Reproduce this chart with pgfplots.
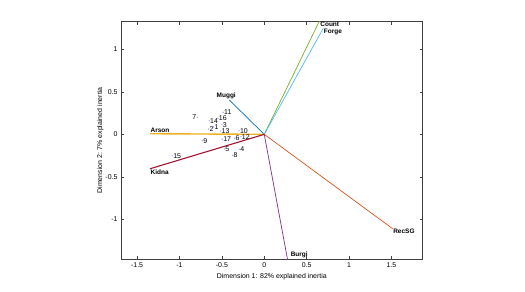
\documentclass[border=0pt]{standalone}
\usepackage{fontspec}
\setmainfont{Liberation Sans}
\usepackage{pgfplots}
\pgfplotsset{compat=1.18}
\definecolor{mBlue}{rgb}{0,0.447,0.741}
\definecolor{mOrange}{rgb}{0.85,0.325,0.098}
\definecolor{mYellow}{rgb}{0.929,0.694,0.125}
\definecolor{mPurple}{rgb}{0.494,0.184,0.556}
\definecolor{mGreen}{rgb}{0.466,0.674,0.188}
\definecolor{mCyan}{rgb}{0.301,0.745,0.933}
\definecolor{mRed}{rgb}{0.635,0.078,0.184}
\definecolor{dotc}{rgb}{0.6,0.6,1}
\begin{document}
\begin{tikzpicture}
\begin{axis}[
  scale only axis, width=301.7bp, height=237.6bp,
  xmin=-1.69, xmax=1.869, ymin=-1.47, ymax=1.325,
  xtick={-1.5,-1,-0.5,0,0.5,1,1.5},
  ytick={-1,-0.5,0,0.5,1},
  tick align=inside, major tick length=3bp,
  axis line style={black!75, line width=0.5bp},
  tick style={black!75, line width=0.5bp},
  ticklabel style={font=\fontsize{7}{8}\selectfont},
  /pgf/number format/assume math mode=true,
  xlabel={Dimension 1: 82\% explained inertia},
  ylabel={Dimension 2: 7\% explained inertia},
  label style={font=\fontsize{7}{8}\selectfont},
  xlabel style={yshift=1bp},
  ylabel style={yshift=-5bp},
]
\addplot[mGreen, line width=0.7bp] coordinates {(0,0) (0.654,1.34)};
\addplot[mCyan, line width=0.7bp] coordinates {(0,0) (0.696,1.247)};
\addplot[mBlue, line width=0.7bp] coordinates {(0,0) (-0.413,0.404)};
\addplot[mYellow, line width=1.4bp] coordinates {(0,0) (-1.348,0.007)};
\addplot[mRed, line width=1.1bp] coordinates {(0,0) (-1.348,-0.405)};
\addplot[mOrange, line width=0.7bp] coordinates {(0,0) (1.514,-1.11)};
\addplot[mPurple, line width=0.7bp] coordinates {(0,0) (0.278,-1.49)};

\addplot[only marks, mark=*, mark size=0.4bp, color=dotc,
  point meta=explicit symbolic,
  nodes near coords,
  nodes near coords style={anchor=west, inner sep=0.8bp, text=black, font=\fontsize{7}{8}\selectfont}]
  table[meta=lab] {
x y lab
-0.597 0.086 1
-0.656 0.062 2
-0.499 0.112 3
-0.295 -0.176 4
-0.472 -0.173 5
-0.349 -0.047 6
-0.731 -0.075 9
-0.373 -0.247 8
-0.298 0.042 10
-0.484 0.259 11
-0.275 -0.028 12
-0.514 0.039 13
-0.649 0.160 14
-1.085 -0.252 15
-0.546 0.190 16
-0.495 -0.059 17
};
\addplot[only marks, mark=*, mark size=0.4bp, color=dotc,
  point meta=explicit symbolic,
  nodes near coords,
  nodes near coords style={anchor=east, inner sep=0.8bp, text=black, font=\fontsize{7}{8}\selectfont}]
  table[meta=lab] {
x y lab
-0.790 0.200 7
};

\node[anchor=north west, inner sep=0.5bp, font=\bfseries\fontsize{6.5}{7}\selectfont] at (axis cs:0.654,1.326) {Count};
\node[anchor=north west, inner sep=0.5bp, font=\bfseries\fontsize{6.5}{7}\selectfont] at (axis cs:0.696,1.247) {Forge};
\node[anchor=south, inner sep=0.5bp, xshift=-3bp, font=\bfseries\fontsize{6.5}{7}\selectfont] at (axis cs:-0.413,0.404) {Muggi};
\node[anchor=south west, inner sep=0.5bp, font=\bfseries\fontsize{6.5}{7}\selectfont] at (axis cs:-1.348,0.007) {Arson};
\node[anchor=north west, inner sep=0.5bp, font=\bfseries\fontsize{6.5}{7}\selectfont] at (axis cs:-1.348,-0.405) {Kidna};
\node[anchor=north west, inner sep=0.5bp, font=\bfseries\fontsize{6.5}{7}\selectfont] at (axis cs:1.514,-1.11) {RecSG};
\node[anchor=west, inner sep=0.5bp, font=\bfseries\fontsize{6.5}{7}\selectfont] at (axis cs:0.305,-1.42) {Burgi};
\end{axis}
\pgfresetboundingbox
\path (current axis.south west) ++(-121bp,-32.7bp) rectangle ++(525bp,292bp);
\end{tikzpicture}
\end{document}
